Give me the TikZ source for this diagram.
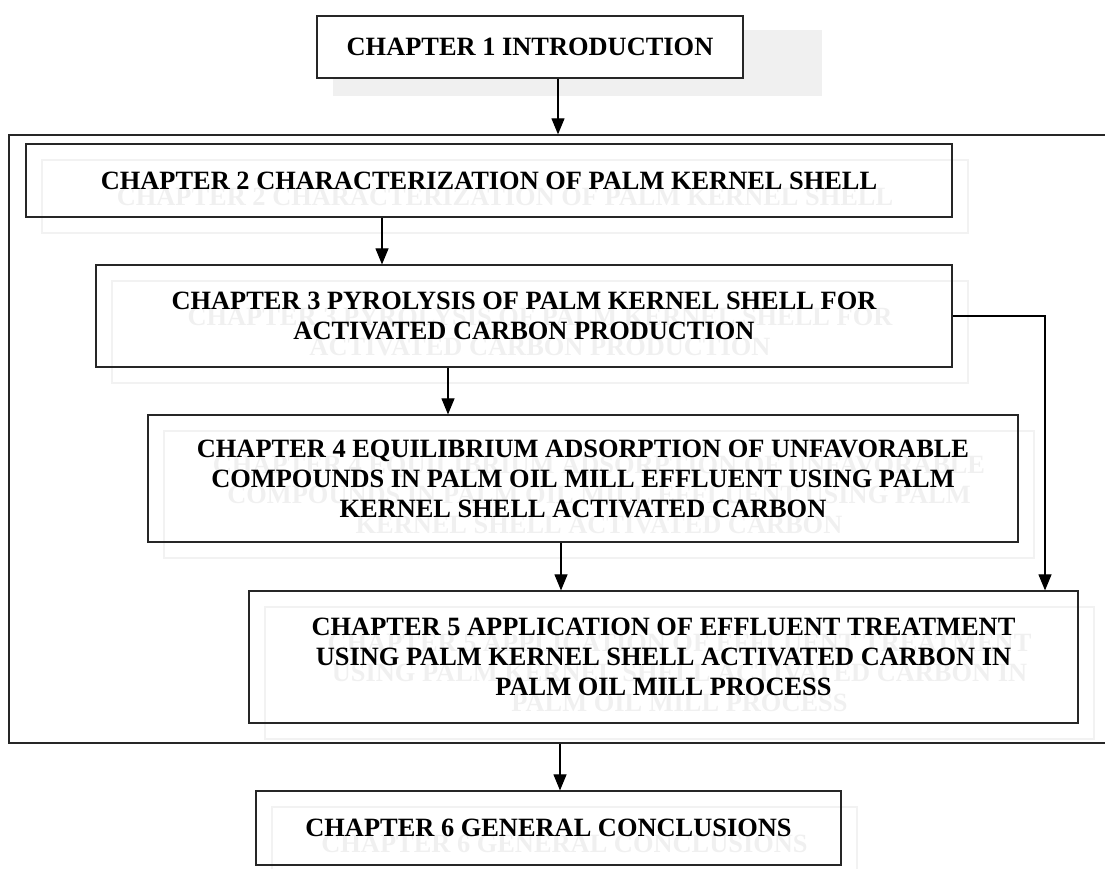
\documentclass[tikz,border=0pt]{standalone}
\usepackage{fontspec}
\setmainfont{Liberation Serif}
\usetikzlibrary{arrows.meta}
\begin{document}
\begin{tikzpicture}[x=1pt,y=-1pt,
  chfont/.style={font=\bfseries\fontsize{26.4}{30}\selectfont},
  box/.style={chfont, draw=black!85, line width=1.2pt, align=center, inner sep=0pt},
  ghost/.style={chfont, draw=black!5, line width=1.2pt, text=black!6, align=center, inner sep=0pt},
  frame/.style={draw=black!85, line width=1.3pt},
  arr/.style={-{Triangle[length=16pt,width=13pt]}, line width=1.1pt, draw=black}]
\useasboundingbox (0,0) rectangle (1105,869);

% outer frame (right side runs off the page)
\node[frame, minimum width=1116pt, minimum height=608pt, inner sep=0pt] (frame) at (567,439) {};

% shadow of chapter 1
\fill[black!6] (333,30) rectangle (822,96);

% ghost copies
\node[ghost, minimum width=926pt, minimum height=73pt] (g2) at (505,196.5) {CHAPTER 2 CHARACTERIZATION OF PALM KERNEL SHELL};
\node[ghost, minimum width=856pt, minimum height=102pt] (g3) at (540,332) {CHAPTER 3 PYROLYSIS OF PALM KERNEL SHELL FOR\\ACTIVATED CARBON PRODUCTION};
\node[ghost, minimum width=870pt, minimum height=127pt] (g4) at (599,494.5) {CHAPTER 4 EQUILIBRIUM ADSORPTION OF UNFAVORABLE\\COMPOUNDS IN PALM OIL MILL EFFLUENT USING PALM\\KERNEL SHELL ACTIVATED CARBON};
\node[ghost, minimum width=829pt, minimum height=132pt] (g5) at (679.5,673) {CHAPTER 5 APPLICATION OF EFFLUENT TREATMENT\\USING PALM KERNEL SHELL ACTIVATED CARBON IN\\PALM OIL MILL PROCESS};
\node[ghost, minimum width=585pt, minimum height=74pt] (g6) at (564.5,844) {CHAPTER 6 GENERAL CONCLUSIONS};

% main boxes
\node[box, fill=white, minimum width=426pt, minimum height=62pt] (b1) at (530,47) {CHAPTER 1 INTRODUCTION};
\node[box, minimum width=926pt, minimum height=73pt] (b2) at (489,180.5) {CHAPTER 2 CHARACTERIZATION OF PALM KERNEL SHELL};
\node[box, minimum width=856pt, minimum height=102pt] (b3) at (524,316) {CHAPTER 3 PYROLYSIS OF PALM KERNEL SHELL FOR\\ACTIVATED CARBON PRODUCTION};
\node[box, minimum width=870pt, minimum height=127pt] (b4) at (583,478.5) {CHAPTER 4 EQUILIBRIUM ADSORPTION OF UNFAVORABLE\\COMPOUNDS IN PALM OIL MILL EFFLUENT USING PALM\\KERNEL SHELL ACTIVATED CARBON};
\node[box, minimum width=829pt, minimum height=132pt] (b5) at (663.5,657) {CHAPTER 5 APPLICATION OF EFFLUENT TREATMENT\\USING PALM KERNEL SHELL ACTIVATED CARBON IN\\PALM OIL MILL PROCESS};
\node[box, minimum width=585pt, minimum height=74pt] (b6) at (548.5,828) {CHAPTER 6 GENERAL CONCLUSIONS};

% connector columns
\coordinate (x1) at (558,0);
\coordinate (x23) at (382,0);
\coordinate (x34) at (448,0);
\coordinate (x45) at (561,0);
\coordinate (x6) at (560,0);
\coordinate (xr) at (1045,0);

\draw[arr] (b1.south -| x1) -- (frame.north -| x1);
\draw[arr] (b2.south -| x23) -- (b3.north -| x23);
\draw[arr] (b3.south -| x34) -- (b4.north -| x34);
\draw[arr] (b4.south -| x45) -- (b5.north -| x45);
\draw[arr] (b3.east) -- (b3.east -| xr) -- (b5.north -| xr);
\draw[arr] (frame.south -| x6) -- (b6.north -| x6);
\end{tikzpicture}
\end{document}
